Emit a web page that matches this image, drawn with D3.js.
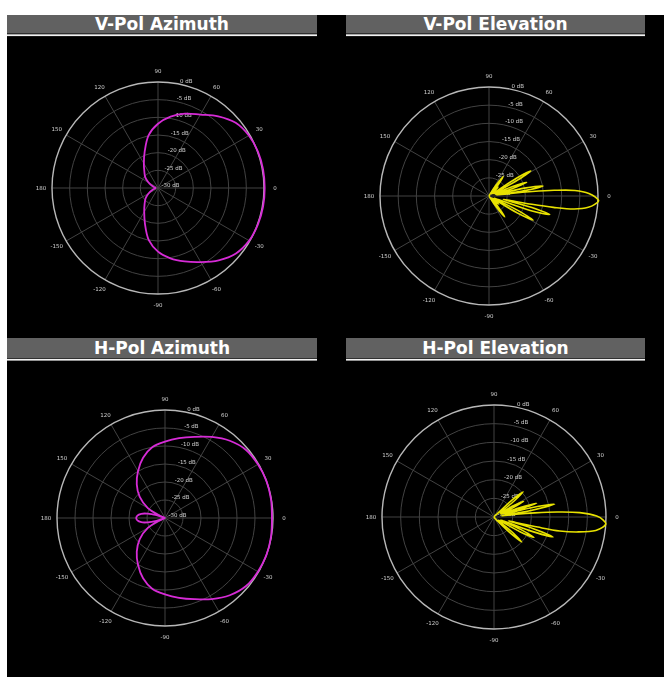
<!DOCTYPE html>
<html>
<head>
<meta charset="utf-8">
<script src="https://cdn.jsdelivr.net/npm/d3@7"></script>
<style>
  html, body { margin: 0; padding: 0; background: #fff; }
  svg { display: block; }
  .lbl { opacity: 0.97; will-change: transform; }
</style>
</head>
<body>
<script>
// Titres des quatre diagrammes
const panelTitles = ["V-Pol Azimuth", "V-Pol Elevation", "H-Pol Azimuth", "H-Pol Elevation"];

// Graduations
const angleTicks = [0, 30, 60, 90, 120, 150, 180, -150, -120, -90, -60, -30];
const dbTicks = [0, -5, -10, -15, -20, -25, -30];

// Diagrammes [angle en degrés, gain en dB]
const vPolAzimuth = [
  [-180, -29.3], [-170, -29.0], [-160, -28.2], [-150, -26.9], [-140, -25.4], [-130, -24.1],
  [-120, -22.2], [-110, -19.2], [-100, -15.0], [-90, -12.0], [-80, -9.8], [-70, -7.9],
  [-60, -5.8], [-50, -3.3], [-40, -1.2], [-30, -0.2], [-20, 0.1], [-10, 0.2],
  [0, 0.2], [10, 0.2], [20, 0.1], [30, -0.3], [40, -1.3], [50, -3.5],
  [60, -6.0], [70, -7.6], [80, -9.5], [90, -11.8], [100, -14.8], [110, -19.0],
  [120, -22.0], [130, -24.0], [140, -25.3], [150, -26.9], [160, -28.2], [170, -29.0]
];

const hPolAzimuth = [
  [-180, -22.0], [-175, -22.3], [-170, -23.3], [-166, -25.0], [-162, -27.5], [-158, -30.0],
  [-155, -28.0], [-150, -24.5], [-140, -20.8], [-130, -17.8], [-120, -15.0], [-110, -12.2],
  [-100, -10.0], [-90, -8.8], [-80, -7.5], [-70, -6.0], [-60, -4.0], [-50, -2.0],
  [-40, -0.6], [-30, -0.2], [-20, 0.0], [-10, -0.1], [0, -0.3], [10, -0.1],
  [20, 0.0], [30, -0.2], [40, -0.6], [50, -2.0], [60, -4.0], [70, -6.0],
  [80, -7.5], [90, -8.8], [100, -10.0], [110, -12.2], [120, -15.0], [130, -17.8],
  [140, -20.8], [150, -24.5], [155, -28.0], [158, -30.0], [162, -27.5], [166, -25.0],
  [170, -23.3], [175, -22.3]
];

const vPolElevation = [
  [-180, -31], [-120, -31], [-75, -30], [-60, -29.5], [-56, -26], [-53, -22.8],
  [-50, -26], [-47, -29.5], [-42, -28], [-40, -26.5], [-38, -28.5], [-34, -29],
  [-31, -21], [-28.6, -16.2], [-26.5, -21], [-24, -28.5], [-21.5, -28], [-19.3, -18],
  [-17, -12.5], [-15, -18], [-13.5, -26], [-12, -24], [-11, -18], [-10, -12],
  [-8.7, -6.3], [-6.5, -2.5], [-4.5, -0.8], [-2.5, 0.2], [-0.5, -0.8], [1.5, -2.5],
  [3.7, -6.3], [5, -12], [6, -18], [7, -24], [8, -28], [8.5, -20],
  [10.5, -14.9], [12.5, -20], [14, -28], [16, -27], [18, -23], [20, -19],
  [22, -23], [24, -28.5], [27, -28], [29, -21], [31, -16.6], [33, -21],
  [35.5, -29], [40, -28.5], [44, -26.5], [48, -29], [51, -26], [54, -23.4],
  [57, -26.5], [60, -29.5], [75, -30], [120, -31]
];

const hPolElevation = [
  [-180, -31], [-120, -31], [-70, -30], [-55, -29.5], [-46, -27], [-44, -23],
  [-42, -20], [-40, -23], [-37, -28.5], [-33, -28], [-29.5, -22], [-27, -18],
  [-25, -22], [-22.5, -28], [-21, -20], [-18.7, -13.3], [-16.5, -19], [-15, -26],
  [-14, -24], [-13, -18], [-12, -12], [-10, -7], [-7.5, -2.5], [-5.5, -0.8],
  [-3.5, 0], [-1.5, -0.8], [0.5, -2.5], [2.9, -7], [4.5, -13], [5.8, -19],
  [7, -24], [8.5, -28], [10, -20], [12, -13.4], [14, -20], [15.5, -27],
  [16.5, -23], [18, -18], [20, -23], [21.5, -28], [24, -27], [26, -24],
  [28, -21], [30, -24], [32, -28], [36, -27], [38.5, -23], [40.8, -19.7],
  [43, -23], [45.5, -29], [55, -29.5], [70, -30], [120, -31]
];

const W = 664, H = 677;
const svg = d3.select("body").append("svg")
  .attr("width", W).attr("height", H)
  .style("font-family", "'DejaVu Sans', sans-serif");

svg.append("rect").attr("x", 7).attr("y", 15).attr("width", W - 7).attr("height", H - 15)
  .attr("fill", "#000");

const panels = [
  {title: panelTitles[0], data: vPolAzimuth, color: "#d62bd6", sw: 1.8, hx: 7, hw: 310, hy: 15, hh: 18.5, cx: 158, cy: 188, R: 106},
  {title: panelTitles[1], data: vPolElevation, color: "#e8e200", sw: 1.6, hx: 346, hw: 299, hy: 15, hh: 18.5, cx: 489, cy: 196, R: 109},
  {title: panelTitles[2], data: hPolAzimuth, color: "#d62bd6", sw: 1.8, hx: 7, hw: 310, hy: 338, hh: 20, cx: 165, cy: 518, R: 108},
  {title: panelTitles[3], data: hPolElevation, color: "#e8e200", sw: 1.6, hx: 346, hw: 299, hy: 338, hh: 20, cx: 494, cy: 517, R: 112}
];

const rad = d => d * Math.PI / 180;

for (const p of panels) {
  // Bandeau de titre
  svg.append("rect").attr("x", p.hx).attr("y", p.hy).attr("width", p.hw).attr("height", p.hh)
    .attr("fill", "#616161");
  svg.append("rect").attr("x", p.hx).attr("y", p.hy + p.hh + 0.8).attr("width", p.hw).attr("height", 1.8)
    .attr("fill", "#f2f2f2");
  svg.append("text").attr("x", p.hx + p.hw / 2).attr("y", p.hy + p.hh / 2 + 6)
    .attr("text-anchor", "middle").attr("font-size", 17).attr("font-weight", "bold")
    .attr("fill", "#fff").text(p.title);

  const r = d3.scaleLinear().domain([-30, 0]).range([0, p.R]);
  const g = svg.append("g").attr("transform", `translate(${p.cx},${p.cy})`);

  // Cercles intérieurs
  for (const d of dbTicks.slice(1, -1)) {
    g.append("circle").attr("r", r(d)).attr("fill", "none")
      .attr("stroke", "#424242").attr("stroke-width", 1);
  }
  // Rayons
  for (const a of angleTicks) {
    g.append("line").attr("x1", 0).attr("y1", 0)
      .attr("x2", r(0) * Math.cos(rad(a))).attr("y2", -r(0) * Math.sin(rad(a)))
      .attr("stroke", "#424242").attr("stroke-width", 1);
  }
  // Cercle extérieur
  g.append("circle").attr("r", r(0)).attr("fill", "none")
    .attr("stroke", "#b8b8b8").attr("stroke-width", 1.4);

  const lbl = g.append("g").attr("class", "lbl");
  // Étiquettes d'angle
  for (const a of angleTicks) {
    lbl.append("text")
      .attr("x", (r(0) + 11) * Math.cos(rad(a)))
      .attr("y", -(r(0) + 11) * Math.sin(rad(a)))
      .attr("dy", "0.35em").attr("text-anchor", "middle")
      .attr("font-size", 5.5).attr("fill", "#d8d8d8").text(a);
  }
  // Étiquettes dB
  for (const d of dbTicks) {
    const rr = r(d) + 3;
    lbl.append("text")
      .attr("x", rr * Math.cos(rad(80)) + 3)
      .attr("y", -rr * Math.sin(rad(80)))
      .attr("dy", "0.35em")
      .attr("font-size", 5.5).attr("fill", "#d8d8d8").text(`${d} dB`);
  }

  // Diagramme
  const line = d3.lineRadial()
    .angle(d => rad(90 - d[0]))
    .radius(d => Math.max(0, r(d[1])))
    .curve(d3.curveCatmullRomClosed.alpha(0.5));
  g.append("path").attr("d", line(p.data))
    .attr("fill", "none").attr("stroke", p.color).attr("stroke-width", p.sw)
    .attr("stroke-linejoin", "round");
}
</script>
</body>
</html>
